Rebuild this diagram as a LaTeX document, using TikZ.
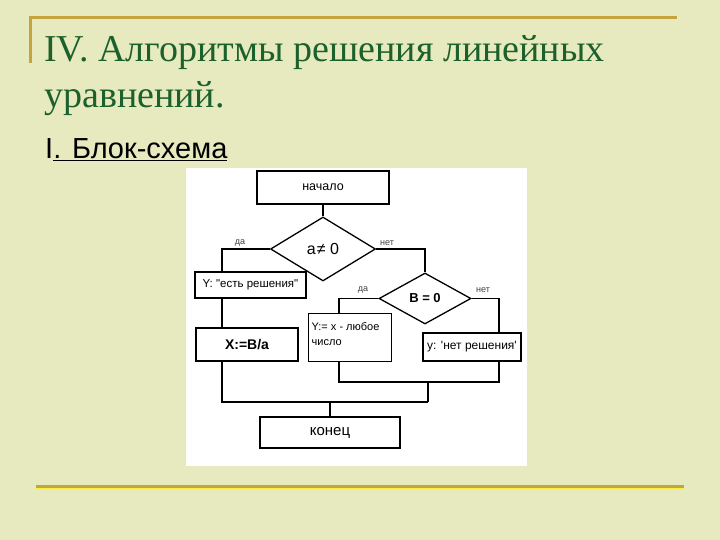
\documentclass[tikz,border=0pt]{standalone}
\usepackage{fontspec}
\setmainfont{Liberation Serif}
\newfontfamily\arialf{Liberation Sans}
\usetikzlibrary{shapes.geometric}
\definecolor{bgc}{RGB}{230,234,190}
\definecolor{titlec}{RGB}{28,96,44}
\definecolor{goldc}{RGB}{196,164,60}
\begin{document}
\begin{tikzpicture}[x=1pt,y=-1pt,
  box/.style={draw=black,line width=1.8pt,rectangle,inner sep=0pt,font=\arialf\fontsize{12}{13}\selectfont},
  thinbox/.style={draw=black,line width=1pt,rectangle,inner sep=0pt},
  dia/.style={draw=black,line width=1.3pt,diamond,inner sep=0pt},
  conn/.style={draw=black,line width=1.3pt},
  lbl/.style={font=\arialf\fontsize{9}{10}\selectfont,text=black!75,inner sep=0pt}]
\useasboundingbox (0,0) rectangle (720,540);
\fill[bgc] (0,0) rectangle (720,540);
% decorative lines
\draw[goldc,line width=3pt] (30,18) -- (677,18);
\draw[goldc,line width=3pt] (30,16.5) -- (30,63);
\draw[goldc,line width=3pt] (36,486) -- (684,486);
\draw[yellow!70!bgc,line width=1pt] (36,488.2) -- (684,488.2);
% titles
\node[anchor=base west,inner sep=0pt,text=titlec,font=\fontsize{38}{44}\selectfont] (t1) at (44,62) {IV. Алгоритмы решения линейных};
\node[anchor=base west,inner sep=0pt,text=titlec,font=\fontsize{38}{44}\selectfont] (t2) at (44,108) {уравнений.};
\node[anchor=base west,inner sep=0pt,font=\arialf\fontsize{29}{32}\selectfont] (t3) at (45,159) {I\underline{. Блок-схема}};
% white panel
\fill[white] (186,168) rectangle (527,466);
% flowchart nodes
\node[box,minimum width=132pt,minimum height=33pt,font=\arialf\fontsize{12.5}{14}\selectfont] (start) at (323,187.5) {начало};
\node[dia,minimum width=105pt,minimum height=64pt,font=\arialf\fontsize{16}{17}\selectfont] (d1) at (323,249) {a\kern1pt≠ 0};
\node[box,minimum width=111pt,minimum height=26pt,font=\arialf\fontsize{11.5}{13}\selectfont] (y1) at (250.5,285) {Y: "есть решения"};
\node[box,minimum width=102pt,minimum height=33pt,font=\arialf\bfseries\fontsize{14}{15}\selectfont] (xb) at (247,344.5) {X:=B/a};
\node[dia,minimum width=92pt,minimum height=51pt,font=\arialf\bfseries\fontsize{13}{14}\selectfont] (d2) at (425,298.5) {B = 0};
\node[thinbox,minimum width=83pt,minimum height=48pt] (yx) at (349.5,337) {};
\node[anchor=north west,inner sep=0pt,align=left,font=\arialf\fontsize{11}{15}\selectfont] (yxt) at ([xshift=4pt,yshift=-10pt]yx.north west) {Y:= x - любое\\число};
\node[box,minimum width=98pt,minimum height=28pt] (nb) at (472,347) {y: 'нет решения'};
\node[box,minimum width=140pt,minimum height=31pt,font=\arialf\fontsize{15}{16}\selectfont] (end) at (330,432.5) {конец};
% helper coordinates
\coordinate (c1) at (222,0);
\coordinate (c2) at (339,0);
\coordinate (c3) at (499,0);
\coordinate (m1) at (222,402);
\coordinate (m2) at (428,402);
\coordinate (m3) at (428,382);
% connectors
\draw[conn] (start.south) -- (d1.north);
\draw[conn] (d1.west) -- (c1 |- d1.west) -- (c1 |- y1.north);
\draw[conn] (d1.east) -| (d2.north);
\draw[conn] (c1 |- y1.south) -- (c1 |- xb.north);
\draw[conn] (c1 |- xb.south) -- (m1) -- (m2);
\draw[conn] (d2.west) -- (c2 |- d2.west) -- (c2 |- yx.north);
\draw[conn] (d2.east) -- (c3 |- d2.east) -- (c3 |- nb.north);
\draw[conn] (c2 |- yx.south) -- (c2 |- m3) -- (c3 |- m3) -- (c3 |- nb.south);
\draw[conn] (m3) -- (m2);
\draw[conn] (end.north |- m1) -- (end.north);
% labels
\node[lbl] (l1) at (240,243) {да};
\node[lbl] (l2) at (387,243) {нет};
\node[lbl] (l3) at (363,290) {да};
\node[lbl] (l4) at (483,290) {нет};
\end{tikzpicture}
\end{document}
